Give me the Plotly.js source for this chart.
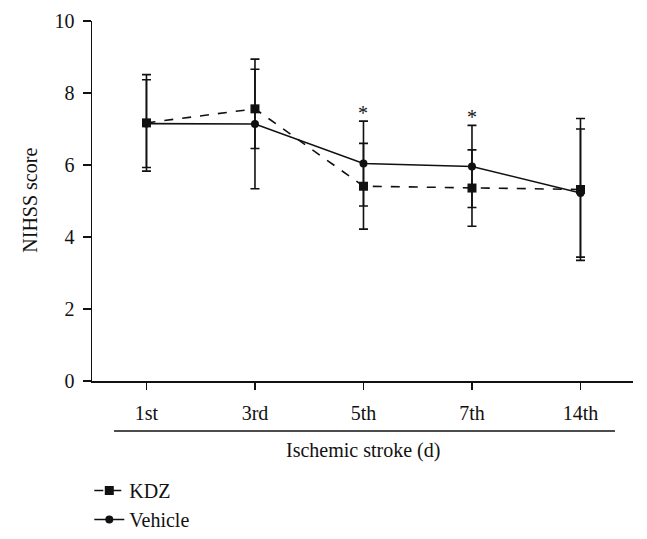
<!DOCTYPE html>
<html>
<head>
<meta charset="utf-8">
<script src="https://cdn.plot.ly/plotly-3.0.1.min.js"></script>
<style>html,body{margin:0;padding:0;background:#fff;}#chart{width:647px;height:539px;}</style>
</head>
<body>
<div id="chart"></div>
<script>
var categories = ["1st", "3rd", "5th", "7th", "14th"];
var kdzValues = [7.17, 7.56, 5.41, 5.36, 5.32];
var kdzErrors = [1.34, 1.10, 1.19, 1.06, 1.97];
var vehicleValues = [7.15, 7.14, 6.04, 5.96, 5.22];
var vehicleErrors = [1.22, 1.80, 1.18, 1.14, 1.78];
var significant = ["5th", "7th"];
var yTicks = [0, 2, 4, 6, 8, 10];

var FONT = "Liberation Serif, Times New Roman, serif";
var FS = 20;

var kdz = {
  x: categories, y: kdzValues, name: "KDZ", type: "scatter", mode: "lines+markers",
  line: {color: "#111", width: 1.6, dash: "dash"},
  marker: {symbol: "square", size: 9, color: "#111"},
  error_y: {type: "data", array: kdzErrors, visible: true, color: "#111", thickness: 1.6, width: 4.5}
};
var vehicle = {
  x: categories, y: vehicleValues, name: "Vehicle", type: "scatter", mode: "lines+markers",
  line: {color: "#111", width: 1.6},
  marker: {symbol: "circle", size: 8, color: "#111"},
  error_y: {type: "data", array: vehicleErrors, visible: true, color: "#111", thickness: 1.6, width: 4.5}
};

var annotations = significant.map(function (c) {
  var i = categories.indexOf(c);
  var top = Math.max(kdzValues[i] + kdzErrors[i], vehicleValues[i] + vehicleErrors[i]);
  return {x: c, y: top, xref: "x", yref: "y", text: "*", showarrow: false,
    yanchor: "bottom", yshift: -5, font: {family: FONT, size: 20, color: "#111"}};
});
annotations.push({x: 0.5, y: -0.192, xref: "paper", yref: "paper", text: "Ischemic stroke (d)",
  showarrow: false, xanchor: "center", yanchor: "middle", font: {family: FONT, size: FS, color: "#111"}});
annotations.push({x: -0.115, y: 0.503, xref: "paper", yref: "paper", text: "NIHSS score", textangle: -90,
  showarrow: false, xanchor: "center", yanchor: "middle", font: {family: FONT, size: FS, color: "#111"}});

var layout = {
  width: 647, height: 539,
  margin: {l: 92, r: 14, t: 21, b: 158, autoexpand: false},
  paper_bgcolor: "#fff", plot_bgcolor: "#fff",
  font: {family: FONT, size: FS, color: "#111"},
  showlegend: true,
  legend: {x: -0.005, y: -0.25, xanchor: "left", yanchor: "top", bgcolor: "rgba(0,0,0,0)",
    font: {family: FONT, size: FS, color: "#111"}, itemwidth: 30, tracegroupgap: 4},
  xaxis: {
    type: "category", range: [-0.502, 4.484], showgrid: false, zeroline: false,
    showline: true, linecolor: "#111", linewidth: 1.5,
    ticks: "outside", ticklen: 7, tickwidth: 1.5, tickcolor: "#111",
    ticklabelstandoff: 6, tickfont: {family: FONT, size: FS, color: "#111"}, fixedrange: true
  },
  yaxis: {
    range: [0, 10], tickvals: yTicks, showgrid: false, zeroline: false,
    showline: true, linecolor: "#111", linewidth: 1.5,
    ticks: "outside", ticklen: 8, tickwidth: 1.5, tickcolor: "#111",
    ticklabelstandoff: 4, tickfont: {family: FONT, size: FS, color: "#111"}, fixedrange: true
  },
  shapes: [{type: "line", xref: "paper", yref: "paper", x0: 0.0407, x1: 0.9667, y0: -0.139, y1: -0.139,
    line: {color: "#111", width: 1.5}}],
  annotations: annotations
};

Plotly.newPlot("chart", [kdz, vehicle], layout, {displayModeBar: false, staticPlot: true});
</script>
</body>
</html>
